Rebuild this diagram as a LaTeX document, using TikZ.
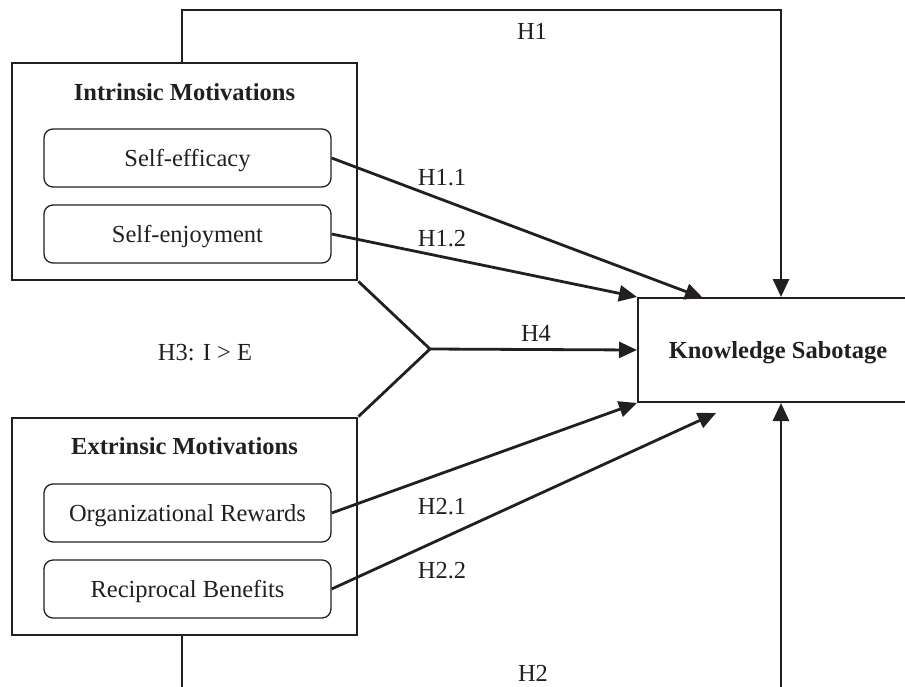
\documentclass[tikz,border=0pt]{standalone}
\usepackage{fontspec}
\setmainfont{Liberation Serif}
\usetikzlibrary{arrows.meta}
\definecolor{ink}{RGB}{35,31,32}

\begin{document}
\begin{tikzpicture}[x=1pt,y=-1pt,
    every node/.style={font=\fontsize{24.5}{28}\selectfont, text=ink, text height=16pt, text depth=0pt},
    groupbox/.style={draw=ink, line width=2.8pt, minimum width=345pt, minimum height=217pt, inner sep=0pt},
    itembox/.style={draw=ink, line width=1.3pt, rounded corners=9pt, minimum width=287pt, minimum height=58pt, inner sep=0pt},
    heading/.style={font=\fontsize{24.5}{28}\selectfont\bfseries},
    link/.style={draw=ink, line width=2.8pt},
    arr/.style={link, -{Triangle[length=18pt,width=16pt]}}]
  \useasboundingbox (0,0) rectangle (905,686);
  \clip (0,0) rectangle (905,686);

  % motivation groups
  \node[groupbox] (intr) at (184.5,171.5) {};
  \node[heading] (intrhead) at (184.5,92) {Intrinsic Motivations};
  \node[itembox] (eff) at (187.5,158) {Self-efficacy};
  \node[itembox] (enj) at (187.5,234) {Self-enjoyment};

  \node[groupbox] (extr) at (184.5,526.5) {};
  \node[heading] (extrhead) at (184.5,446) {Extrinsic Motivations};
  \node[itembox] (rew) at (187.5,513) {Organizational Rewards};
  \node[itembox] (ben) at (187.5,589) {Reciprocal Benefits};

  % outcome
  \node[heading, draw=ink, line width=2pt, minimum width=280pt, minimum height=104pt] (ks) at (778,350) {Knowledge Sabotage};

  \coordinate (topleft) at (182,10);
  \coordinate (topright) at (781,10);
  \coordinate (botleft) at (182,700);
  \coordinate (botright) at (781,700);
  \coordinate (fork) at (430,349);
  \coordinate (tipeff) at (703,298);
  \coordinate (tipben) at (716,413);

  % H1 and H2
  \draw[arr] (intr.north -| topleft) -- (topleft) -- (topright) -- (ks.north -| topright);
  \draw[arr] (extr.south -| botleft) -- (botleft) -- (botright) -- (ks.south -| botright);

  % sub-hypotheses
  \draw[arr] (eff.east) -- (tipeff);
  \draw[arr] (enj.east) -- (ks.north west);
  \draw[arr] (rew.east) -- (ks.south west);
  \draw[arr] (ben.east) -- (tipben);

  % H4
  \draw[link] (intr.south east) -- (fork) -- (extr.north east);
  \draw[arr] (fork) -- (ks.west);

  \node (h1) at (532,31) {H1};
  \node (h11) at (442,177) {H1.1};
  \node (h12) at (442,238) {H1.2};
  \node (h3) at (205,352) {H3: I > E};
  \node (h4) at (536,333) {H4};
  \node (h21) at (442,506) {H2.1};
  \node (h22) at (442,570) {H2.2};
  \node (h2) at (533,673) {H2};
\end{tikzpicture}
\end{document}
